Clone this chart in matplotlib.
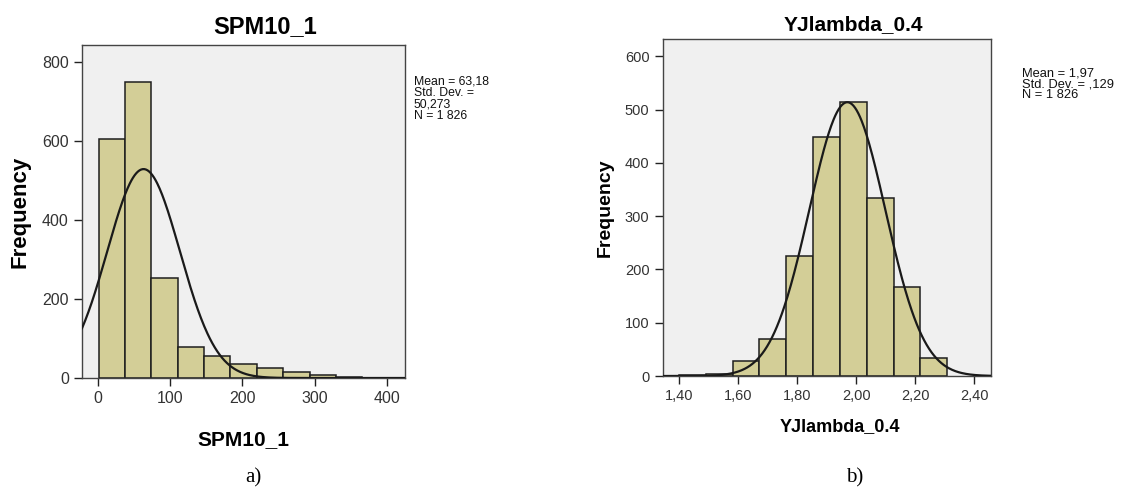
import numpy as np
import matplotlib
matplotlib.use('Agg')
import matplotlib.pyplot as plt

plt.rcParams['font.family'] = ['Liberation Sans', 'DejaVu Sans']

# a) SPM10_1 histogram
spm_edges = [1, 37.5, 74, 110.5, 147, 183.5, 220, 256.5, 293, 329.5, 366]
spm_counts = [606, 749, 252, 79, 55, 35, 26, 14, 7, 3]
spm_mean, spm_sd, spm_n = 63.18, 50.273, 1826
spm_xticks = [0, 100, 200, 300, 400]
spm_yticks = [0, 200, 400, 600, 800]

# b) YJlambda_0.4 histogram
yj_edges = [1.399, 1.490, 1.581, 1.672, 1.763, 1.854, 1.945, 2.036, 2.127, 2.218, 2.309]
yj_counts = [1, 3, 29, 69, 226, 448, 515, 334, 167, 34]
yj_mean, yj_sd, yj_n = 1.97, 0.129, 1826
yj_xticks = [1.40, 1.60, 1.80, 2.00, 2.20, 2.40]
yj_ytick = [0, 100, 200, 300, 400, 500, 600]

W, H = 1132, 495
fig = plt.figure(figsize=(W / 100, H / 100), dpi=100)

bar_color = '#d3ce97'
bg = '#f0f0f0'


def hist_panel(rect, edges, counts, mean, sd, n, xlim, ylim, xticks, yticks,
               xfmt, tick_fs):
    ax = fig.add_axes(rect)
    ax.set_facecolor(bg)
    width = edges[1] - edges[0]
    ax.bar(edges[:-1], counts, width=width, align='edge', color=bar_color,
           edgecolor='#1e1e1e', linewidth=1.1, zorder=2)
    # fitted normal curve from the stats shown in the box
    xs = np.linspace(xlim[0], xlim[1], 400)
    ys = n * width / (sd * np.sqrt(2 * np.pi)) * np.exp(-0.5 * ((xs - mean) / sd) ** 2)
    ax.plot(xs, ys, color='#1a1a1a', lw=1.6, zorder=3)
    ax.set_xlim(xlim)
    ax.set_ylim(ylim)
    ax.set_xticks(xticks)
    ax.set_xticklabels([xfmt(v) for v in xticks])
    ax.set_yticks(yticks)
    ax.tick_params(direction='out', length=6, width=1, colors='#222222',
                   labelsize=tick_fs, labelcolor='#333333')
    for s in ax.spines.values():
        s.set_color('#444444')
        s.set_linewidth(1.0)
    return ax


ax1 = hist_panel([82 / W, 1 - 378 / H, 323 / W, 333 / H], spm_edges, spm_counts,
                 spm_mean, spm_sd, spm_n, (-22, 425), (0, 843), spm_xticks,
                 spm_yticks, lambda v: f'{v:d}', 11.5)
ax1.set_ylabel('Frequency', fontsize=16, fontweight='bold', labelpad=8)

ax2 = hist_panel([662.7 / W, 1 - 376 / H, 328 / W, 336.7 / H], yj_edges, yj_counts,
                 yj_mean, yj_sd, yj_n, (1.344, 2.456), (0, 632), yj_xticks,
                 yj_ytick, lambda v: f'{v:.2f}'.replace('.', ','), 10.5)
ax2.set_ylabel('Frequency', fontsize=14, fontweight='bold', labelpad=8)

# titles and axis labels
fig.text(265 / W, 1 - 27 / H, 'SPM10_1', ha='center', va='center',
         fontsize=17, fontweight='bold')
fig.text(853 / W, 1 - 25 / H, 'YJlambda_0.4', ha='center', va='center',
         fontsize=15, fontweight='bold')
fig.text(243 / W, 1 - 440 / H, 'SPM10_1', ha='center', va='center',
         fontsize=15, fontweight='bold')
fig.text(840 / W, 1 - 427 / H, 'YJlambda_0.4', ha='center', va='center',
         fontsize=13, fontweight='bold')

# stats boxes
fig.text(414 / W, 1 - 75 / H, 'Mean = 63,18\nStd. Dev. =\n50,273\nN = 1 826',
         ha='left', va='top', fontsize=8.8, linespacing=0.95, color='#111111')
fig.text(1022 / W, 1 - 67 / H, 'Mean = 1,97\nStd. Dev. = ,129\nN = 1 826',
         ha='left', va='top', fontsize=9.3, linespacing=0.9, color='#111111')

# captions
fig.text(253 / W, 1 - 478 / H, 'a)', ha='center', va='center', fontsize=15,
         family='Liberation Serif')
fig.text(855 / W, 1 - 478 / H, 'b)', ha='center', va='center', fontsize=15,
         family='Liberation Serif')

fig.savefig('out.png', dpi=100, facecolor='white')
